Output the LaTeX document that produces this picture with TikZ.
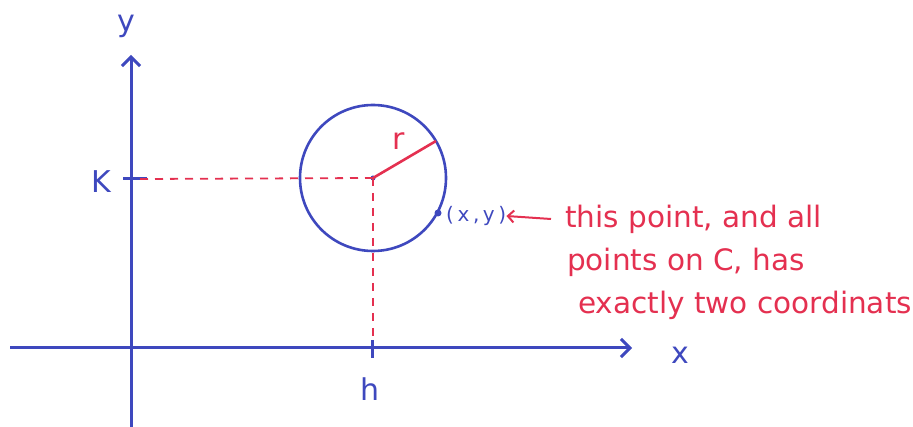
\documentclass[tikz,border=0pt]{standalone}
\usepackage{fontspec}
\setmainfont{DejaVu Sans}
\usetikzlibrary{arrows.meta}
\definecolor{penblue}{RGB}{62,72,190}
\definecolor{penred}{RGB}{228,48,80}
\tikzset{
  axis/.style={draw=penblue, line width=3pt},
  guide/.style={draw=penred, line width=1.8pt, dash pattern=on 8pt off 7pt},
  lbl/.style={text=penblue, font=\fontsize{30}{32}\selectfont, inner sep=0pt},
  note/.style={text=penred, font=\fontsize{29.5}{32}\selectfont, inner sep=0pt, anchor=base west},
}
\begin{document}
\begin{tikzpicture}[x=1pt,y=-1pt]
\useasboundingbox (0,0) rectangle (913,427);
% axes
\coordinate (ybot) at (131,427);
\coordinate (ytop) at (131,55);
\coordinate (xl) at (10,348);
\coordinate (xr) at (632,348);
\draw[axis, -{Straight Barb[length=9pt,width=18pt]}] (ybot) -- (ytop);
\draw[axis, -{Straight Barb[length=9pt,width=18pt]}] (xl) -- (xr);
\node[lbl] (ylab) at (126,26) {y};
\node[lbl] (xlab) at (680,355) {x};
% ticks
\coordinate (kt1) at (123,179);
\coordinate (kt2) at (147,179);
\draw[axis] (kt1) -- (kt2);
\node[lbl] (klab) at (101,182) {K};
\coordinate (ht1) at (372,340);
\coordinate (ht2) at (372,358);
\draw[axis] (ht1) -- (ht2);
\node[lbl] (hlab) at (370,389) {h};
% circle
\coordinate (c) at (373,178);
\draw[penblue, line width=2.6pt] (c) circle (73);
\fill[penblue] (c) circle (2.5);
% guides
\coordinate (kstart) at (140,179);
\coordinate (hend) at (373,338);
\draw[guide] (kstart) -- (c);
\draw[guide] (c) -- (hend);
% radius
\coordinate (rr) at (436,141);
\draw[penred, line width=2.6pt] (c) -- (rr);
\node[text=penred, font=\fontsize{30}{32}\selectfont, inner sep=0pt] (rlab) at (399,141) {r};
% point
\coordinate (p) at (438,213);
\fill[penblue] (p) circle (3.5);
\node[lbl, font=\fontsize{20}{24}\selectfont\addfontfeatures{LetterSpace=18}, anchor=west] (pxy) at (446,216) {(x,y)};
\node[note] (n1) at (565,228) {this point, and all};
\node[note] (n2) at (567,271) {points on C, has};
\node[note] (n3) at (578,314) {exactly two coordinats};
\coordinate (arrs) at (551,219);
\draw[penred, line width=2pt, -{Straight Barb[length=6pt,width=12pt]}] (arrs) -- (pxy.east);
\end{tikzpicture}
\end{document}
